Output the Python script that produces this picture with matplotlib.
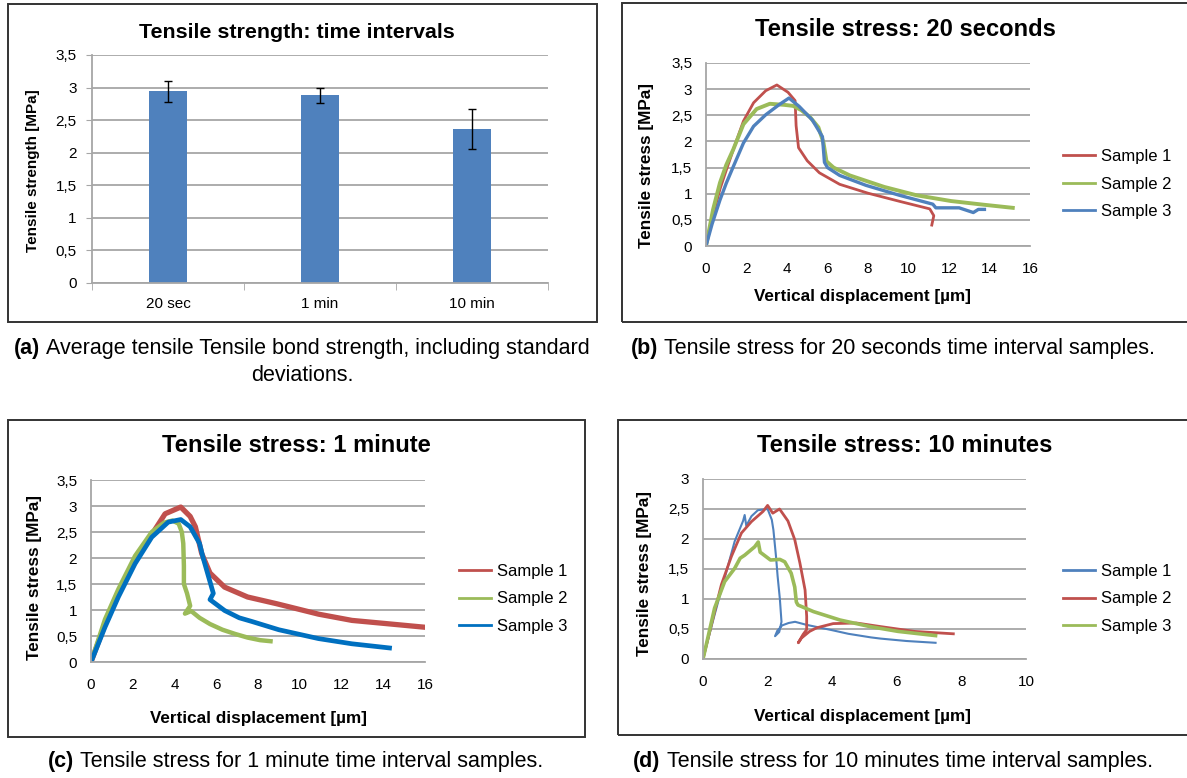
import numpy as np
import matplotlib
matplotlib.use("Agg")
import matplotlib.pyplot as plt
from matplotlib.patches import Rectangle
from matplotlib.offsetbox import TextArea, HPacker, VPacker, AnnotationBbox

plt.rcParams['font.family'] = ['Liberation Sans', 'DejaVu Sans']

# ---- data ----
a_categories = ['20 sec', '1 min', '10 min']
a_means = [2.94, 2.88, 2.36]
a_errors = [0.16, 0.11, 0.31]

# (b) 20 seconds
b_s1_x = [0, 0.35, 0.7, 1.0, 1.4, 1.85, 2.35, 2.95, 3.5, 4.05, 4.4, 4.45, 4.57, 5.0, 5.6, 6.6, 8.0, 9.6, 11.05, 11.25, 11.15]
b_s1_y = [0, 0.6, 1.1, 1.45, 1.9, 2.39, 2.74, 2.97, 3.08, 2.94, 2.78, 2.3, 1.88, 1.63, 1.40, 1.18, 1.01, 0.85, 0.71, 0.58, 0.40]
b_s2_x = [0, 0.35, 0.69, 1.0, 1.35, 1.85, 2.5, 3.15, 3.85, 4.3, 4.7, 5.15, 5.55, 5.8, 5.95, 6.3, 7.1, 8.8, 10.4, 12.1, 13.7, 15.15]
b_s2_y = [0, 0.7, 1.21, 1.55, 1.85, 2.33, 2.62, 2.72, 2.70, 2.68, 2.60, 2.46, 2.27, 1.98, 1.62, 1.50, 1.35, 1.13, 0.97, 0.86, 0.79, 0.73]
b_s3_x = [0, 0.3, 0.69, 1.0, 1.35, 1.85, 2.35, 2.95, 3.6, 4.1, 4.6, 5.25, 5.75, 5.85, 6.0, 6.6, 7.9, 9.55, 11.2, 11.35, 12.5, 13.2, 13.45, 13.75]
b_s3_y = [0, 0.42, 0.88, 1.2, 1.52, 1.97, 2.29, 2.51, 2.70, 2.83, 2.67, 2.41, 2.09, 1.6, 1.5, 1.35, 1.16, 0.97, 0.80, 0.73, 0.73, 0.64, 0.70, 0.70]

# (c) 1 minute
c_s1_x = [0, 0.67, 1.31, 2.11, 2.91, 3.55, 4.3, 4.75, 5.0, 5.3, 5.7, 6.4, 7.5, 8.9, 10.9, 12.5, 14.1, 15.95]
c_s1_y = [0, 0.72, 1.3, 1.93, 2.45, 2.85, 2.98, 2.8, 2.6, 2.09, 1.71, 1.44, 1.25, 1.12, 0.92, 0.80, 0.74, 0.67]
c_s2_x = [0, 0.67, 1.31, 2.11, 2.91, 3.5, 3.9, 4.2, 4.35, 4.42, 4.45, 4.45, 4.6, 4.75, 4.5, 4.8, 5.2, 5.7, 6.3, 6.9, 7.5, 8.1, 8.6]
c_s2_y = [0, 0.82, 1.4, 2.04, 2.5, 2.68, 2.72, 2.66, 2.5, 2.28, 1.85, 1.5, 1.32, 1.08, 0.93, 0.98, 0.85, 0.73, 0.62, 0.54, 0.47, 0.42, 0.40]
c_s3_x = [0, 0.67, 1.31, 2.11, 2.91, 3.7, 4.3, 4.75, 5.2, 5.36, 5.86, 5.7, 6.4, 7.1, 7.7, 9.0, 10.9, 12.5, 14.3]
c_s3_y = [0, 0.67, 1.25, 1.89, 2.40, 2.69, 2.74, 2.6, 2.28, 2.02, 1.32, 1.2, 0.99, 0.85, 0.78, 0.62, 0.45, 0.35, 0.27]

# (d) 10 minutes
d_s1_x = [0, 0.36, 0.67, 0.98, 1.24, 1.29, 1.34, 1.5, 1.7, 2.0, 2.13, 2.18, 2.26, 2.31, 2.38, 2.43, 2.36, 2.23, 2.3, 2.45, 2.65, 2.85, 3.2, 4.0, 4.5, 5.2, 5.5, 6.3, 7.2]
d_s1_y = [0, 0.74, 1.35, 1.96, 2.3, 2.4, 2.22, 2.38, 2.48, 2.5, 2.32, 2.15, 1.71, 1.38, 1.0, 0.62, 0.45, 0.38, 0.47, 0.56, 0.6, 0.62, 0.57, 0.48, 0.42, 0.36, 0.34, 0.30, 0.27]
d_s2_x = [0, 0.36, 0.57, 0.88, 1.19, 1.5, 1.86, 2.0, 2.16, 2.37, 2.63, 2.84, 3.0, 3.16, 3.21, 3.21, 3.1, 2.95, 3.05, 3.3, 3.52, 4.03, 4.75, 5.5, 6.55, 7.75]
d_s2_y = [0, 0.79, 1.24, 1.71, 2.10, 2.29, 2.46, 2.56, 2.43, 2.50, 2.30, 1.99, 1.60, 1.15, 0.71, 0.49, 0.41, 0.27, 0.35, 0.46, 0.52, 0.59, 0.60, 0.54, 0.46, 0.42]
d_s3_x = [0, 0.36, 0.67, 0.98, 1.15, 1.29, 1.6, 1.71, 1.77, 2.09, 2.38, 2.53, 2.73, 2.84, 2.89, 2.94, 3.42, 4.24, 5.17, 6.04, 7.2]
d_s3_y = [0, 0.85, 1.29, 1.51, 1.68, 1.73, 1.87, 1.95, 1.78, 1.65, 1.66, 1.62, 1.43, 1.2, 0.95, 0.9, 0.79, 0.65, 0.54, 0.46, 0.39]

RED = '#C0504D'
GREEN = '#9BBB59'
BLUE = '#4F81BD'
BLUE_C = '#0070C0'
GRID = '#A6A6A6'

W, H = 1187, 778
fig = plt.figure(figsize=(W / 100, H / 100), dpi=100)


def fx(x):
    return x / W


def fy(y):
    return 1 - y / H


def add_axes(x0, yt, x1, yb):
    return fig.add_axes([fx(x0), fy(yb), (x1 - x0) / W, (yb - yt) / H])


def comma(v):
    s = ('%g' % v)
    return s.replace('.', ',')


def style_axes(ax, yticks, ticklen=0, ypad=10, xpad=11.5):
    for s in ['top', 'right']:
        ax.spines[s].set_visible(False)
    for s in ['left', 'bottom']:
        ax.spines[s].set_color(GRID)
        ax.spines[s].set_linewidth(1.3)
    ax.set_yticks(yticks)
    ax.set_yticklabels([comma(v) for v in yticks])
    ax.grid(axis='y', color=GRID, linewidth=1.3)
    ax.set_axisbelow(True)
    ax.tick_params(axis='both', labelsize=11, length=ticklen, color=GRID)
    ax.tick_params(axis='y', pad=ypad)
    ax.tick_params(axis='x', pad=xpad)


def frame(x0, y0, x1, y1):
    fig.add_artist(Rectangle((fx(x0), fy(y1)), (x1 - x0) / W, (y1 - y0) / H,
                             transform=fig.transFigure, fill=False,
                             edgecolor='#333333', linewidth=1.4))


def caption(tag, text, x, y, second=None, size=15.5):
    t1 = TextArea(tag, textprops=dict(fontsize=size, fontweight='bold'))
    t2 = TextArea(text, textprops=dict(fontsize=size))
    box = HPacker(children=[t1, t2], pad=0, sep=4.3, align='baseline')
    if second is not None:
        box = VPacker(children=[box, TextArea(second, textprops=dict(fontsize=size))],
                      pad=0, sep=4, align='center')
    ab = AnnotationBbox(box, (fx(x), fy(y)), xycoords='figure fraction',
                        frameon=False, box_alignment=(0.5, 0.5), pad=0)
    fig.add_artist(ab)


# frames
frame(8, 4, 597, 322)
frame(622, 3, 1200, 322)
frame(8, 420, 585, 737)
frame(618, 420, 1200, 735)

# ---- (a) bar chart ----
ax = add_axes(92, 55, 548, 283)
pos = np.arange(len(a_categories))
ax.bar(pos, a_means, width=0.25, color=BLUE, yerr=a_errors, capsize=3,
       error_kw=dict(ecolor='black', elinewidth=1, capthick=1))
ax.set_xlim(-0.5, 2.5)
ax.set_ylim(0, 3.5)
style_axes(ax, [0, 0.5, 1, 1.5, 2, 2.5, 3, 3.5], ticklen=4, ypad=7, xpad=10)
ax.set_xticks(pos)
ax.set_xticklabels(a_categories)
ax.tick_params(axis='x', length=0)
ax.set_xticks([-0.5, 0.5, 1.5, 2.5], minor=True)
ax.tick_params(axis='x', which='minor', length=5, color=GRID)
fig.text(fx(297), fy(32), 'Tensile strength: time intervals', ha='center', va='center',
         fontsize=15.4, fontweight='bold')
fig.text(fx(33), fy(171), 'Tensile strength [MPa]', ha='center', va='center',
         rotation=90, fontsize=11, fontweight='bold')


def line_panel(x0, yt, x1, yb, xmax, ymax, yticks, series, title, tx, ty,
               ylx, yly, xlx, xly, legx, legy):
    ax = add_axes(x0, yt, x1, yb)
    for xs, ys, c, lw, lab in series:
        ax.plot(xs, ys, color=c, linewidth=lw, label=lab, solid_joinstyle='round')
    ax.set_xlim(0, xmax)
    ax.set_ylim(0, ymax)
    style_axes(ax, yticks)
    xt = list(range(0, xmax + 1, 2))
    ax.set_xticks(xt)
    ax.set_xticklabels([str(v) for v in xt])
    fig.text(fx(tx), fy(ty), title, ha='center', va='center', fontsize=17.1,
             fontweight='bold')
    fig.text(fx(ylx), fy(yly), 'Tensile stress [MPa]', ha='center', va='center',
             rotation=90, fontsize=12.3, fontweight='bold')
    fig.text(fx(xlx), fy(xly), 'Vertical displacement [\u00b5m]', ha='center',
             va='center', fontsize=12.3, fontweight='bold')
    handles, labels = ax.get_legend_handles_labels()
    order = sorted(range(len(labels)), key=lambda i: labels[i])
    leg = ax.legend([handles[i] for i in order], [labels[i] for i in order],
                    loc='center left', bbox_to_anchor=(fx(legx), fy(legy)),
                    bbox_transform=fig.transFigure, frameon=False, fontsize=12,
                    handlelength=1.9, handletextpad=0.4, labelspacing=0.75,
                    borderpad=0, borderaxespad=0)
    for h in leg.get_lines():
        h.set_linewidth(2)
    return ax


# ---- (b) ----
line_panel(706, 63, 1030, 246, 16, 3.5, [0, 0.5, 1, 1.5, 2, 2.5, 3, 3.5],
           [(b_s1_x, b_s1_y, RED, 2.0, 'Sample 1'),
            (b_s2_x, b_s2_y, GREEN, 2.8, 'Sample 2'),
            (b_s3_x, b_s3_y, BLUE, 2.4, 'Sample 3')],
           'Tensile stress: 20 seconds', 905, 30, 646, 165, 863, 297, 1063, 184)

# ---- (c) ----
line_panel(91, 480, 425, 662, 16, 3.5, [0, 0.5, 1, 1.5, 2, 2.5, 3, 3.5],
           [(c_s1_x, c_s1_y, RED, 3.8, 'Sample 1'),
            (c_s2_x, c_s2_y, GREEN, 3.2, 'Sample 2'),
            (c_s3_x, c_s3_y, BLUE_C, 3.4, 'Sample 3')],
           'Tensile stress: 1 minute', 296, 446, 35, 577, 258, 718, 459, 599)

# ---- (d) ----
line_panel(703, 479, 1026, 659, 10, 3, [0, 0.5, 1, 1.5, 2, 2.5, 3],
           [(d_s1_x, d_s1_y, BLUE, 1.5, 'Sample 1'),
            (d_s2_x, d_s2_y, RED, 2.0, 'Sample 2'),
            (d_s3_x, d_s3_y, GREEN, 2.6, 'Sample 3')],
           'Tensile stress: 10 minutes', 905, 446, 645, 574, 863, 716, 1063, 599)

# captions
caption('(a)', 'Average tensile Tensile bond strength, including standard', 302, 362,
        second='deviations.')
caption('(b)', 'Tensile stress for 20 seconds time interval samples.', 893, 349)
caption('(c)', 'Tensile stress for 1 minute time interval samples.', 296, 761)
caption('(d)', 'Tensile stress for 10 minutes time interval samples.', 893, 761)

fig.savefig('out.png', dpi=100)
